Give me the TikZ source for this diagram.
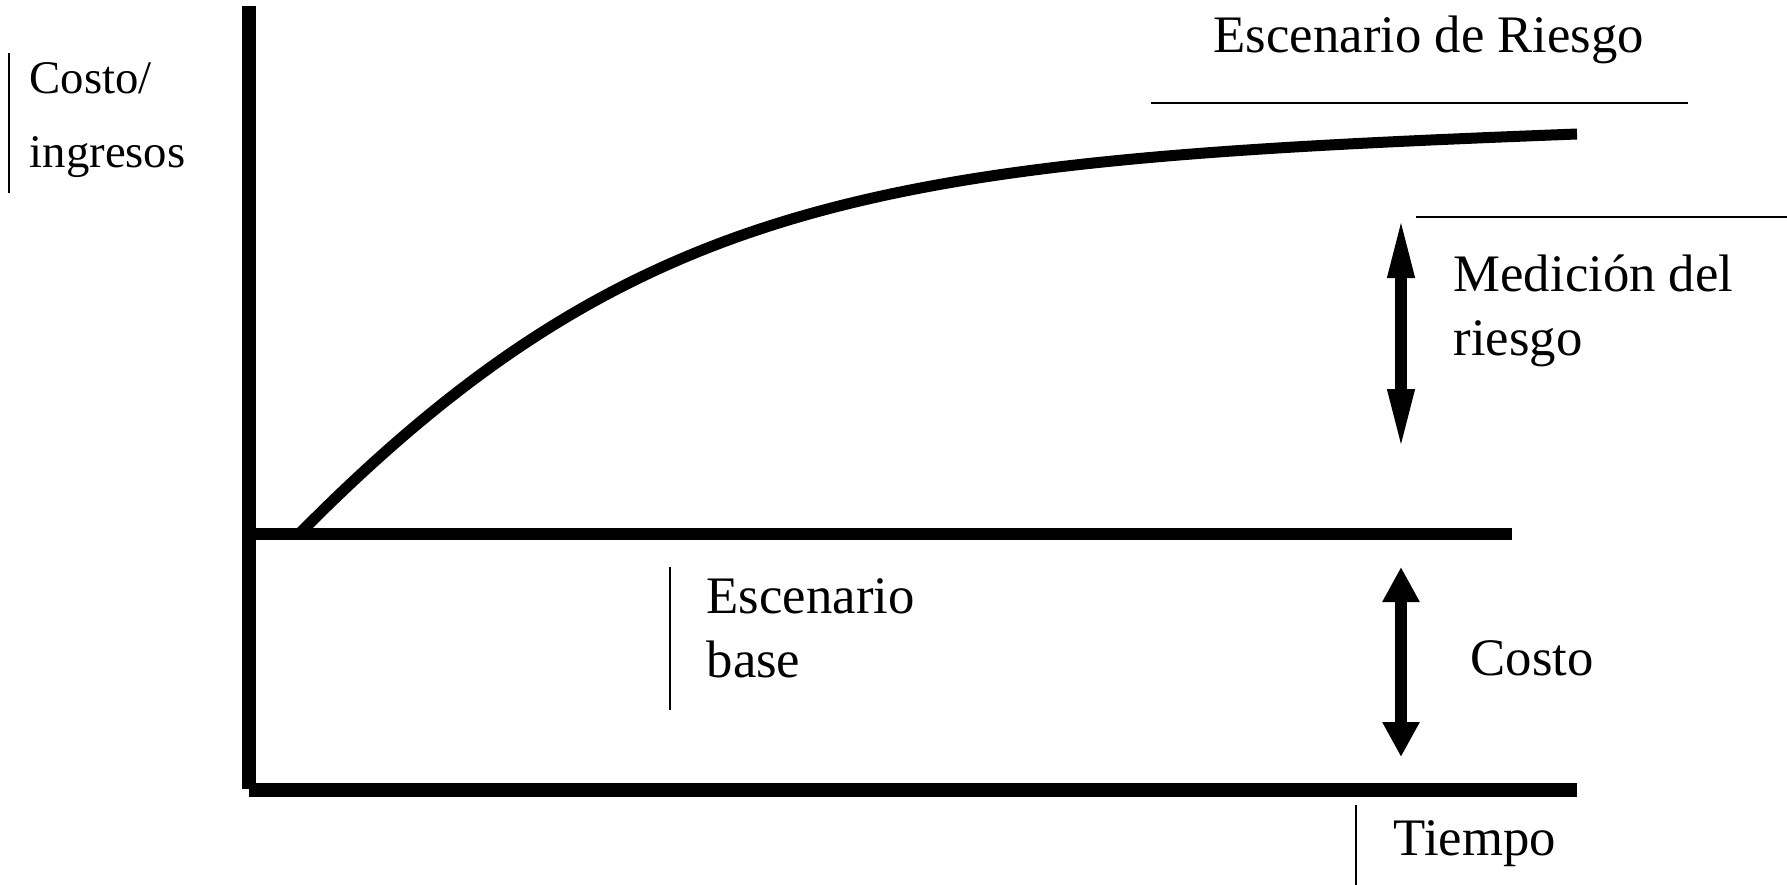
\documentclass[tikz,border=0pt]{standalone}
\usepackage{fontspec}
\setmainfont{Liberation Serif}
\usepackage{xcolor}
\definecolor{cInk}{HTML}{000000}
\usepackage{tikz}
\usetikzlibrary{arrows.meta}
\tikzset{
  axis-line/.style={draw=cInk,line width=1.45mm},
  base-line/.style={draw=cInk,line width=1.2mm},
  risk-curve/.style={draw=cInk,line width=1.1mm},
  rule-thin/.style={draw=cInk,line width=0.5pt},
  label-text/.style={anchor=base west,inner sep=0pt,align=left,text=cInk,
    font=\fontsize{15}{18.2}\selectfont},
  arrow-long/.style={{Triangle[length=6.3mm,width=2.4mm]}-{Triangle[length=6.3mm,width=2.4mm]},
    draw=cInk,line width=1.2mm},
  arrow-short/.style={{Triangle[length=3.5mm,width=3.5mm]}-{Triangle[length=3.5mm,width=3.5mm]},
    draw=cInk,line width=1.2mm},
}

\begin{document}
\begin{tikzpicture}[x=0.1mm,y=-0.1mm]
  \useasboundingbox (0,0) rectangle (1787,885);
  % ejes
  \coordinate (y-top) at (249,6);
  \coordinate (origin) at (249,790);
  \coordinate (x-end) at (1577,790);
  \draw[axis-line] (y-top) -- (249,789);
  \draw[axis-line] (origin) -- (x-end);
  % escenario base y escenario de riesgo
  \coordinate (base-start) at (256,534);
  \coordinate (base-end) at (1512,534);
  \draw[base-line] (base-start) -- (base-end);
  \coordinate (risk-start) at (301,532);
  \coordinate (risk-end) at (1577,134);
  \draw[risk-curve] (risk-start) .. controls (645,185) and (900,160) .. (risk-end);
  % flechas
  \coordinate (med-top) at (1401,215);
  \coordinate (med-bot) at (1401,452);
  \coordinate (cost-top) at (1401,567);
  \coordinate (cost-bot) at (1401,757);
  \draw[arrow-long]  (med-top) -- (med-bot);
  \draw[arrow-short] (cost-top) -- (cost-bot);
  % textos (base = ultima linea)
  \node[label-text,font=\fontsize{13.3}{21}\selectfont] (costo-ing) at (29,167) {Costo/\\ingresos};
  \node[label-text] (esc-riesgo) at (1213,52) {Escenario de Riesgo};
  \node[label-text] (medicion) at (1453,355) {Medición del\\riesgo};
  \node[label-text] (esc-base) at (706,677) {Escenario\\base};
  \node[label-text] (costo) at (1470,675) {Costo};
  \node[label-text] (tiempo) at (1393,855) {Tiempo};
  % rayas finas
  \foreach \p/\q in {{9,53}/{9,193}, {1151,103}/{1688,103}, {1416,217}/{1787,217},
                     {670,567}/{670,710}, {1356,805}/{1356,885}}
    \draw[rule-thin] (\p) -- (\q);
\end{tikzpicture}
\end{document}
